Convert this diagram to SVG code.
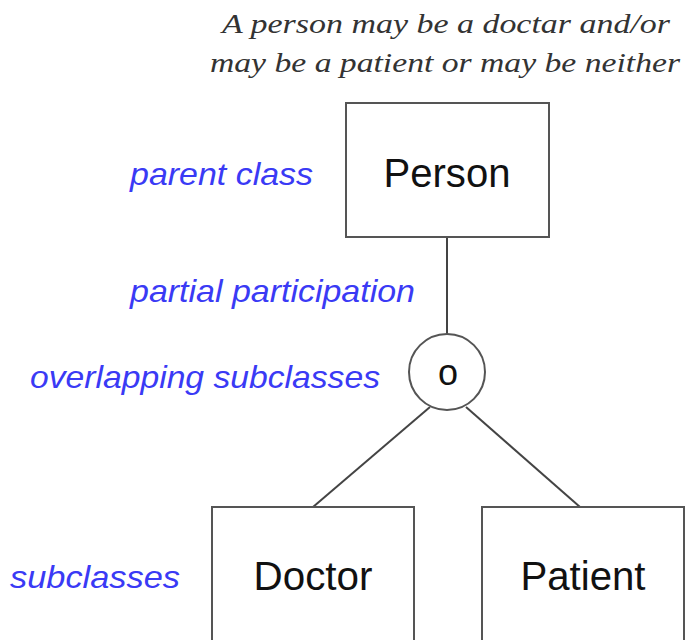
<svg xmlns="http://www.w3.org/2000/svg" width="687" height="640" viewBox="0 0 687 640">
<style>
.box{fill:#fff;stroke:#555;stroke-width:2}
.conn line{stroke:#444;stroke-width:2}
.nt{font-family:"Liberation Sans",Arial,sans-serif;font-size:40px;fill:#111;text-anchor:middle}
.lbl{font-family:"Liberation Sans",Arial,sans-serif;font-style:italic;font-size:32px;fill:#3a3af5}
.title{font-family:"Liberation Serif","Times New Roman",serif;font-style:italic;font-size:28px;fill:#333}
</style>
<rect width="687" height="640" fill="#fff"/>
<g id="title">
<text class="title" x="222" y="33" textLength="448" lengthAdjust="spacingAndGlyphs">A person may be a doctar and/or</text>
<text class="title" x="210" y="72" textLength="470" lengthAdjust="spacingAndGlyphs">may be a patient or may be neither</text>
</g>
<g class="conn" id="connectors">
<line x1="447" y1="237" x2="447" y2="334"/>
<line x1="430" y1="407" x2="313" y2="507"/>
<line x1="466" y1="407" x2="580" y2="507"/>
</g>
<g id="person">
<rect class="box" x="346" y="103" width="203" height="134"/>
<text class="nt" x="447" y="187" textLength="127" lengthAdjust="spacingAndGlyphs">Person</text>
</g>
<g id="overlap">
<circle class="box" cx="447" cy="372" r="38"/>
<text class="nt" x="448" y="385" style="font-size:36px">o</text>
</g>
<g id="doctor">
<rect class="box" x="212" y="507" width="202" height="140"/>
<text class="nt" x="313" y="590" textLength="119" lengthAdjust="spacingAndGlyphs">Doctor</text>
</g>
<g id="patient">
<rect class="box" x="482" y="507" width="202" height="140"/>
<text class="nt" x="583" y="590" textLength="125" lengthAdjust="spacingAndGlyphs">Patient</text>
</g>
<g id="labels">
<text class="lbl" x="130" y="185" textLength="183" lengthAdjust="spacingAndGlyphs">parent class</text>
<text class="lbl" x="130" y="302" textLength="285" lengthAdjust="spacingAndGlyphs">partial participation</text>
<text class="lbl" x="30" y="388" textLength="350" lengthAdjust="spacingAndGlyphs">overlapping subclasses</text>
<text class="lbl" x="10" y="588" textLength="170" lengthAdjust="spacingAndGlyphs">subclasses</text>
</g>
</svg>
